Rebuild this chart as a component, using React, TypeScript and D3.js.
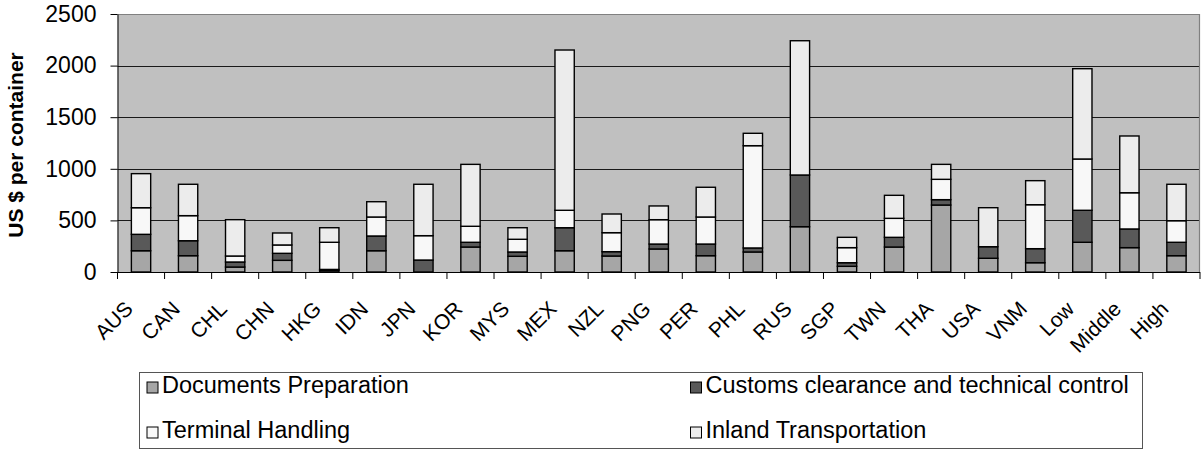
import React, { useRef, useEffect } from 'react';
import * as d3 from 'd3';

// categories (economies + income groups)
const categories = ["AUS", "CAN", "CHL", "CHN", "HKG", "IDN", "JPN", "KOR", "MYS", "MEX", "NZL", "PNG",
  "PER", "PHL", "RUS", "SGP", "TWN", "THA", "USA", "VNM", "Low", "Middle", "High"];

// cost components, US $ per container
const documents = [206, 158, 48, 113, 15, 206, 0, 242, 152, 206, 155, 223, 158, 194, 439, 55, 242, 649, 133, 90, 288, 236, 158];
const customs = [159, 145, 49, 68, 10, 143, 116, 46, 42, 223, 42, 48, 113, 39, 501, 35, 94, 52, 112, 136, 310, 181, 130];
const terminal = [258, 243, 58, 81, 263, 184, 236, 155, 123, 169, 184, 236, 262, 991, 0, 146, 184, 197, 0, 426, 497, 351, 209];
const inland = [330, 304, 352, 116, 141, 148, 498, 600, 112, 1553, 181, 133, 288, 120, 1301, 100, 223, 145, 378, 233, 875, 550, 353];

const seriesNames = ["Documents Preparation", "Customs clearance and technical control", "Terminal Handling", "Inland Transportation"];
const seriesKeys = ["documents", "customs", "terminal", "inland"];
const seriesColors = ["#a6a6a6", "#595959", "#f8f8f8", "#ececec"];

const yTicks = [0, 500, 1000, 1500, 2000, 2500];

const FONT = "'Liberation Sans', Arial, sans-serif";

const App = () => {
  const svgRef = useRef(null);
  const W = 1201;
  const H = 450;
  const plot = { left: 117.5, right: 1200, top: 14, bottom: 272 };

  useEffect(() => {
    const svg = d3.select(svgRef.current);
    svg.selectAll("*").remove();

    const rows = categories.map((c, i) => ({
      cat: c,
      documents: documents[i],
      customs: customs[i],
      terminal: terminal[i],
      inland: inland[i],
    }));

    const x = d3.scaleBand()
      .domain(categories)
      .range([plot.left, plot.right])
      .paddingInner(0.59)
      .paddingOuter(0.295);

    const y = d3.scaleLinear().domain([0, 2500]).range([plot.bottom, plot.top]);

    // plot background
    svg.append("rect")
      .attr("x", plot.left).attr("y", plot.top)
      .attr("width", plot.right - plot.left).attr("height", plot.bottom - plot.top)
      .attr("fill", "#c0c0c0");

    // gridlines
    svg.append("g")
      .selectAll("line")
      .data(yTicks.filter(t => t > 0 && t < 2500))
      .join("line")
      .attr("x1", plot.left).attr("x2", plot.right)
      .attr("y1", d => Math.round(y(d)) + 0.5).attr("y2", d => Math.round(y(d)) + 0.5)
      .attr("stroke", "#1a1a1a").attr("stroke-width", 1);

    // plot border (top / right)
    svg.append("path")
      .attr("d", `M${plot.left},${plot.top + 0.5}H${plot.right - 0.5}V${plot.bottom}`)
      .attr("fill", "none").attr("stroke", "#808080").attr("stroke-width", 1.2);

    // stacked bars
    const stacked = d3.stack().keys(seriesKeys)(rows);
    const layers = svg.append("g")
      .selectAll("g")
      .data(stacked)
      .join("g")
      .attr("fill", (d, i) => seriesColors[i]);

    layers.selectAll("rect")
      .data(d => d.filter(s => s[1] - s[0] > 0))
      .join("rect")
      .attr("x", d => x(d.data.cat))
      .attr("y", d => y(d[1]))
      .attr("width", x.bandwidth())
      .attr("height", d => y(d[0]) - y(d[1]))
      .attr("stroke", "#000")
      .attr("stroke-width", 1.4);

    // y axis
    const yAxis = svg.append("g")
      .attr("transform", `translate(${plot.left},0)`)
      .call(d3.axisLeft(y).tickValues(yTicks).tickFormat(d3.format("d"))
        .tickSize(7).tickPadding(14).tickSizeOuter(0));
    yAxis.attr("font-size", null).attr("font-family", null);
    yAxis.select(".domain").attr("stroke", "#000");
    yAxis.selectAll(".tick line").attr("stroke", "#000");
    yAxis.selectAll("text")
      .style("font-family", FONT)
      .style("font-size", "23px")
      .attr("fill", "#000");

    // x axis: ticks at category boundaries
    const xAxis = svg.append("g");
    xAxis.append("line")
      .attr("x1", plot.left).attr("x2", plot.right)
      .attr("y1", plot.bottom + 0.5).attr("y2", plot.bottom + 0.5)
      .attr("stroke", "#000");
    const step = x.step();
    xAxis.selectAll("line.tk")
      .data(d3.range(categories.length + 1))
      .join("line")
      .attr("class", "tk")
      .attr("x1", i => plot.left + i * step).attr("x2", i => plot.left + i * step)
      .attr("y1", plot.bottom).attr("y2", plot.bottom + 7)
      .attr("stroke", "#000");

    xAxis.selectAll("text")
      .data(categories)
      .join("text")
      .attr("transform", d => `translate(${x(d) + x.bandwidth() / 2 - 12},${plot.bottom + 33}) rotate(-45)`)
      .attr("text-anchor", "end")
      .attr("dy", "0.35em")
      .style("font-family", FONT)
      .style("font-size", "21px")
      .attr("fill", "#000")
      .text(d => d);

    // y axis title
    svg.append("text")
      .attr("transform", `translate(23,145) rotate(-90)`)
      .attr("text-anchor", "middle")
      .style("font-family", FONT)
      .style("font-size", "21px")
      .attr("font-weight", "bold")
      .text("US $ per container");

    // legend
    const lg = svg.append("g");
    lg.append("rect")
      .attr("x", 139.5).attr("y", 372.5)
      .attr("width", 1003).attr("height", 76)
      .attr("fill", "#fff").attr("stroke", "#555").attr("stroke-width", 1);

    const legendPos = [
      { x: 147, y: 393 },
      { x: 690.5, y: 393 },
      { x: 147, y: 438 },
      { x: 690.5, y: 438 },
    ];
    seriesNames.forEach((name, i) => {
      const p = legendPos[i];
      lg.append("rect")
        .attr("x", p.x).attr("y", p.y - 11)
        .attr("width", 11).attr("height", 11)
        .attr("fill", seriesColors[i]).attr("stroke", "#000").attr("stroke-width", 1);
      lg.append("text")
        .attr("x", p.x + 15).attr("y", p.y)
        .style("font-family", FONT)
        .style("font-size", "23.5px")
        .attr("fill", "#000")
        .text(name);
    });
  }, []);

  return (
    <svg ref={svgRef} width={W} height={H}
      style={{ position: "absolute", left: 0, top: 0, background: "#fff" }} />
  );
};

export default App;
